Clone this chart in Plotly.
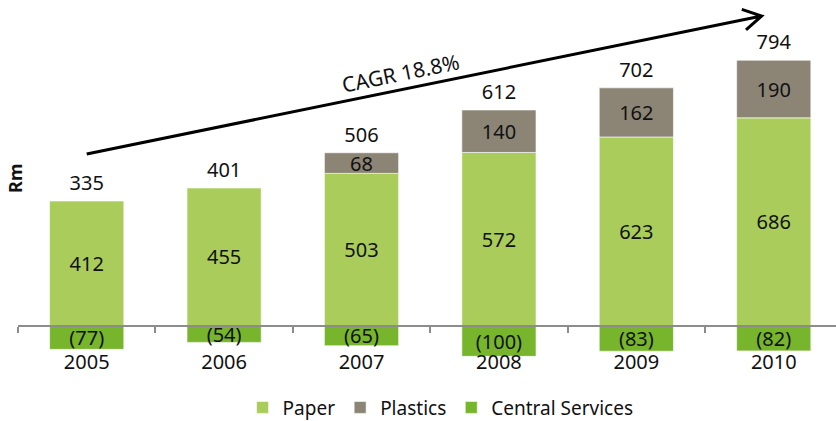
import math
import plotly.graph_objects as go

# Segment results by year (Rm)
years = ["2005", "2006", "2007", "2008", "2009", "2010"]
paper = [412, 455, 503, 572, 623, 686]
plastics = [None, None, 68, 140, 162, 190]
central = [-77, -54, -65, -100, -83, -82]
cagr_label = "CAGR 18.8%"

totals = [p + (q or 0) + c for p, q, c in zip(paper, plastics, central)]
positive_top = [p + (q or 0) for p, q in zip(paper, plastics)]

FONT = "Noto Sans"
C_PAPER = "#A9CC5B"
C_PLASTICS = "#8C8575"
C_CENTRAL = "#77B52C"
TXT = "#111111"

W, H = 836, 421
M_L, M_R, M_T, M_B = 18, 0, 5, 51
Y_MIN, Y_MAX = -145, 1058
zero_frac = (0 - Y_MIN) / (Y_MAX - Y_MIN)

fig = go.Figure()

bar_kw = dict(textposition="inside", insidetextanchor="middle", constraintext="none",
              textangle=0, textfont=dict(family=FONT, size=20, color=TXT),
              marker_line=dict(color="rgba(255,255,255,0.6)", width=1),
              width=0.54, hoverinfo="skip")

fig.add_trace(go.Bar(name="Paper", x=years, y=paper, marker_color=C_PAPER,
                     text=[str(v) for v in paper], **bar_kw))
fig.add_trace(go.Bar(name="Plastics", x=years, y=plastics, marker_color=C_PLASTICS,
                     text=["" if v is None else str(v) for v in plastics], **bar_kw))
fig.add_trace(go.Bar(name="Central Services", x=years, y=central, marker_color=C_CENTRAL,
                     text=[f"({abs(v)})" for v in central], **bar_kw))

# Totals above each column
fig.add_trace(go.Scatter(x=years, y=positive_top, mode="markers+text",
                         marker=dict(size=8, opacity=0),
                         text=[str(t) for t in totals], textposition="top center",
                         textfont=dict(family=FONT, size=20, color=TXT),
                         showlegend=False, hoverinfo="skip"))

# Growth arrow: straight line with open chevron head, in pixels from the first column
dx, dy = 675, 138
ang = math.atan2(dy, dx)
arm = 21
spread = math.radians(30)
a1 = (dx - arm * math.cos(ang - spread), dy - arm * math.sin(ang - spread))
a2 = (dx - arm * math.cos(ang + spread), dy - arm * math.sin(ang + spread))
path = (f"M0,0 L{dx},{dy} "
        f"M{a1[0]:.1f},{a1[1]:.1f} L{dx},{dy} L{a2[0]:.1f},{a2[1]:.1f}")
fig.add_shape(type="path", xref="x", yref="y", xsizemode="pixel", ysizemode="pixel",
              xanchor=0, yanchor=567, path=path,
              line=dict(color="black", width=3))

fig.add_annotation(x=2.285, y=834, xref="x", yref="y", text=cagr_label, showarrow=False,
                   textangle=-11.6, font=dict(family=FONT, size=21, color=TXT))

fig.update_layout(
    width=W, height=H,
    margin=dict(l=M_L, r=M_R, t=M_T, b=M_B, autoexpand=False),
    barmode="relative",
    plot_bgcolor="white", paper_bgcolor="white",
    font=dict(family=FONT, size=20, color=TXT),
    showlegend=True,
    legend=dict(orientation="h", xref="container", yref="container",
                x=0.527, xanchor="center", y=0.032, yanchor="middle",
                font=dict(family=FONT, size=19, color=TXT),
                traceorder="normal", itemwidth=30),
    xaxis=dict(type="category", range=[-0.5, 5.453], anchor="free", position=zero_frac,
               showline=True, linecolor="#8C8C8C", linewidth=2,
               ticks="outside", tickson="boundaries", ticklen=6, tickwidth=2,
               tickcolor="#8C8C8C", ticklabelstandoff=18,
               tickfont=dict(family=FONT, size=20, color=TXT),
               showgrid=False, zeroline=False, fixedrange=True),
    yaxis=dict(range=[Y_MIN, Y_MAX], showticklabels=False, showgrid=False,
               zeroline=False, showline=False, ticks="", fixedrange=True),
)

fig.add_annotation(text="<b>Rm</b>", xref="paper", yref="paper", x=-0.003, y=0.525,
                   xanchor="center", yanchor="middle", textangle=-90, showarrow=False,
                   font=dict(family=FONT, size=18, color=TXT))

fig.write_html("out.html")
